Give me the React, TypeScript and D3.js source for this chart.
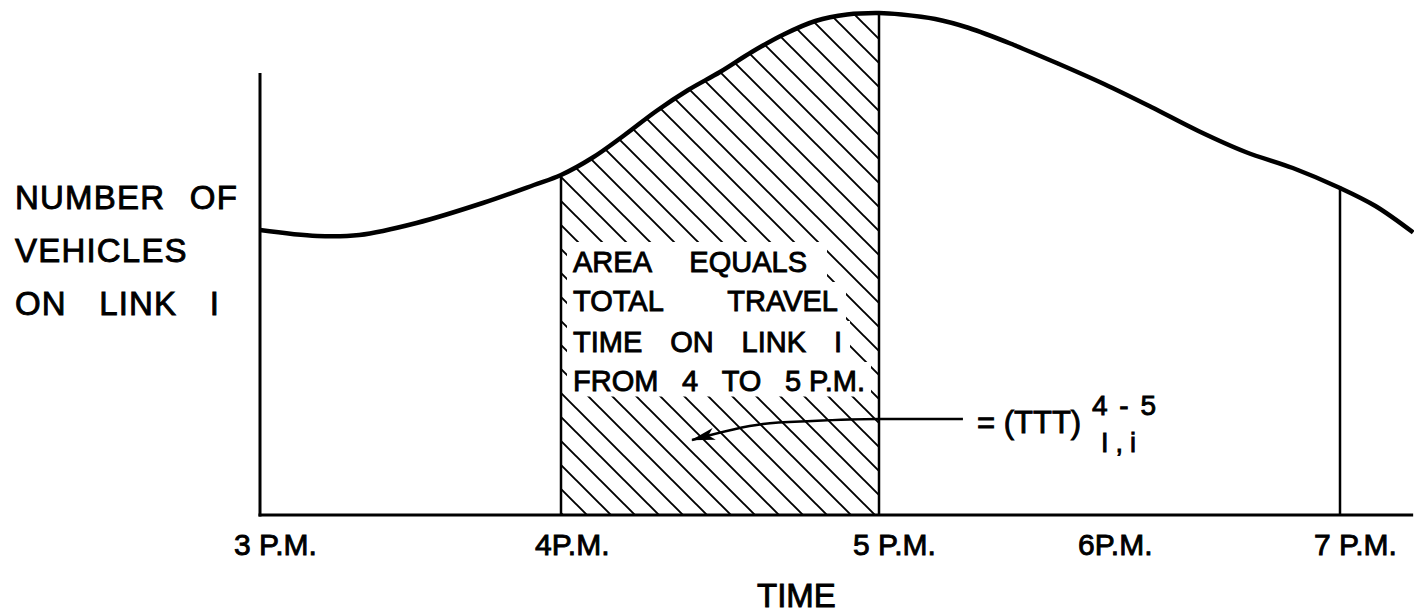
import React, { useEffect, useRef } from "react";
import * as d3 from "d3";

const WIDTH = 1414;
const HEIGHT = 614;
const FONT = "'Liberation Sans', Arial, Helvetica, sans-serif";

// x: hours of the day (hand-drawn original has uneven hour spacing)
const hourTicks = [3, 4, 5, 6, 7];
const hourLabels = ["3 P.M.", "4P.M.", "5 P.M.", "6P.M.", "7 P.M."];
const hourPixels = [260, 561, 879, 1104, 1340];

// number of vehicles on link 1 (arbitrary units 0-100)
const curveHours = [
  3.0, 3.19, 3.33, 3.52, 3.74, 3.91, 4.0, 4.1, 4.2, 4.3, 4.4, 4.5, 4.6, 4.7,
  4.8, 4.9, 5.0, 5.1, 5.25, 5.4, 5.6, 5.8, 6.0, 6.2, 6.4, 6.6, 6.8, 7.0, 7.15,
  7.31,
];
const curveVehicles = [
  57.0, 55.8, 56.0, 58.4, 62.4, 66.0, 68.0, 71.5, 76.0, 80.8, 85.0, 88.6, 92.6,
  96.1, 98.8, 100.1, 100.4, 100.1, 99.2, 97.4, 94.0, 90.2, 86.2, 81.6, 76.8,
  72.6, 69.4, 65.4, 61.8, 56.5,
];

const markedHours = [4, 5, 7];
const shadedFrom = 4;
const shadedTo = 5;
const yAxisMax = 88.4;
const xAxisEnd = 7.31;

const yLabelLines = [["NUMBER", "OF"], ["VEHICLES"], ["ON", "LINK", "I"]];
const noteLines = [
  ["AREA", "EQUALS"],
  ["TOTAL", "TRAVEL"],
  ["TIME", "ON", "LINK", "I"],
  ["FROM", "4", "TO", "5 P.M."],
];
const xTitle = "TIME";
const formulaMain = "= (TTT)";
const formulaSup = "4 - 5";
const formulaSub = "I,i";

// arrow pointing into the shaded area (hours, vehicles)
const arrowHours = [5.373, 5.0, 4.79, 4.635, 4.412];
const arrowVehicles = [19.2, 19.2, 18.8, 18.2, 15.0];

export default function App() {
  const ref = useRef<SVGSVGElement>(null);

  useEffect(() => {
    const svg = d3.select(ref.current);
    svg.selectAll("*").remove();

    const x = d3.scaleLinear().domain(hourTicks).range(hourPixels);
    const y = d3.scaleLinear().domain([0, 100]).range([515, 15]);

    const data = curveHours.map((h, i) => ({ h, v: curveVehicles[i] }));
    const curve = d3.curveCatmullRom.alpha(0.5);
    const line = d3
      .line<{ h: number; v: number }>()
      .x((d) => x(d.h))
      .y((d) => y(d.v))
      .curve(curve);
    const area = d3
      .area<{ h: number; v: number }>()
      .x((d) => x(d.h))
      .y0(y(0))
      .y1((d) => y(d.v))
      .curve(curve);

    const defs = svg.append("defs");
    const pat = defs
      .append("pattern")
      .attr("id", "hatch")
      .attr("patternUnits", "userSpaceOnUse")
      .attr("width", 24)
      .attr("height", 24);
    pat
      .append("path")
      .attr("d", "M0,0L24,24M-6,18L6,30M18,-6L30,6")
      .attr("stroke", "#000")
      .attr("stroke-width", 1.9);
    defs.append("clipPath").attr("id", "under").append("path").attr("d", area(data) as string);
    defs
      .append("marker")
      .attr("id", "head")
      .attr("markerUnits", "userSpaceOnUse")
      .attr("viewBox", "0 0 24 12")
      .attr("markerWidth", 24)
      .attr("markerHeight", 12)
      .attr("refX", 23)
      .attr("refY", 6)
      .attr("orient", "auto")
      .append("path")
      .attr("d", "M0,0L24,6L0,12L6,6Z")
      .attr("fill", "#000");

    // hatched area 4-5 PM
    svg
      .append("rect")
      .attr("x", x(shadedFrom))
      .attr("y", 0)
      .attr("width", x(shadedTo) - x(shadedFrom))
      .attr("height", y(0))
      .attr("fill", "url(#hatch)")
      .attr("clip-path", "url(#under)");

    const knock = svg.append("g");
    const texts = svg
      .append("g")
      .attr("font-family", FONT)
      .attr("fill", "#000")
      .attr("stroke", "#000")
      .attr("stroke-width", 0.9);

    function justify(
      g: any,
      words: string[],
      x0: number,
      x1: number | null,
      baseline: number,
      size: number,
      spacing = 0
    ) {
      const nodes = words.map((w) =>
        g
          .append("text")
          .attr("x", x0)
          .attr("y", baseline)
          .attr("font-size", size)
          .attr("letter-spacing", spacing)
          .text(w)
      );
      if (x1 === null || words.length === 1) return;
      const widths = nodes.map((n: any) => (n.node() as SVGTextElement).getComputedTextLength());
      const total = d3.sum(widths);
      const gap = (x1 - x0 - total) / (words.length - 1);
      let cx = x0;
      nodes.forEach((n: any, i: number) => {
        n.attr("x", cx);
        cx += widths[i] + gap;
      });
    }

    // annotation text with white knockout
    const noteBaselines = [272, 311, 352, 391];
    const noteRight = [807, 838, 842, 865];
    const notePad = [20, 8, 8, 6];
    let prevBottom = noteBaselines[0] - 30;
    noteLines.forEach((words, i) => {
      const b = noteBaselines[i];
      const top = prevBottom;
      const bottom = i === noteLines.length - 1 ? b + 5 : b + 10;
      prevBottom = bottom;
      knock
        .append("rect")
        .attr("x", x(shadedFrom) + 6)
        .attr("y", top)
        .attr("width", noteRight[i] + notePad[i] - (x(shadedFrom) + 6))
        .attr("height", bottom - top + 0.5)
        .attr("fill", "#fff");
      justify(texts, words, 573, noteRight[i], b, 29);
    });

    // vertical lines up to curve
    svg
      .append("g")
      .selectAll("line")
      .data(markedHours)
      .join("line")
      .attr("x1", (h) => x(h))
      .attr("x2", (h) => x(h))
      .attr("y1", y(0))
      .attr("y2", (h) => y(curveVehicles[curveHours.indexOf(h)]))
      .attr("stroke", "#000")
      .attr("stroke-width", 2.5);

    // axes
    svg
      .append("line")
      .attr("x1", x(3))
      .attr("x2", x(3))
      .attr("y1", y(0) + 1.5)
      .attr("y2", y(yAxisMax))
      .attr("stroke", "#000")
      .attr("stroke-width", 3);
    svg
      .append("line")
      .attr("x1", x(3) - 1.5)
      .attr("x2", x(xAxisEnd))
      .attr("y1", y(0))
      .attr("y2", y(0))
      .attr("stroke", "#000")
      .attr("stroke-width", 3);

    // curve
    svg
      .append("path")
      .attr("d", line(data) as string)
      .attr("fill", "none")
      .attr("stroke", "#000")
      .attr("stroke-width", 4.5);

    // arrow
    const arrowData = arrowHours.map((h, i) => ({ h, v: arrowVehicles[i] }));
    svg
      .append("path")
      .attr(
        "d",
        d3
          .line<{ h: number; v: number }>()
          .x((d) => x(d.h))
          .y((d) => y(d.v))
          .curve(d3.curveMonotoneX)(arrowData) as string
      )
      .attr("fill", "none")
      .attr("stroke", "#000")
      .attr("stroke-width", 2.5)
      .attr("marker-end", "url(#head)");

    // formula
    texts.append("text").attr("x", 977).attr("y", 433).attr("font-size", 31).text(formulaMain);
    texts
      .append("text")
      .attr("x", 1092)
      .attr("y", 415)
      .attr("font-size", 28)
      .attr("letter-spacing", 2)
      .text(formulaSup);
    texts
      .append("text")
      .attr("x", 1101)
      .attr("y", 452)
      .attr("font-size", 27)
      .attr("letter-spacing", 7)
      .text(formulaSub);

    // tick labels
    texts
      .append("g")
      .selectAll("text")
      .data(hourTicks)
      .join("text")
      .attr("x", (h) => x(h) - 26)
      .attr("y", 555)
      .attr("font-size", 30)
      .text((h, i) => hourLabels[i]);

    // x title
    texts.append("text").attr("x", 757).attr("y", 607).attr("font-size", 33).text(xTitle);

    // y title
    const yBase = [209, 262, 315];
    const yRight = [238, null, 220];
    yLabelLines.forEach((words, i) => justify(texts, words, 15, yRight[i], yBase[i], 33, 1.2));
  }, []);

  return (
    <svg
      ref={ref}
      width={WIDTH}
      height={HEIGHT}
      style={{ position: "absolute", left: 0, top: 0, background: "#fff" }}
    />
  );
}
